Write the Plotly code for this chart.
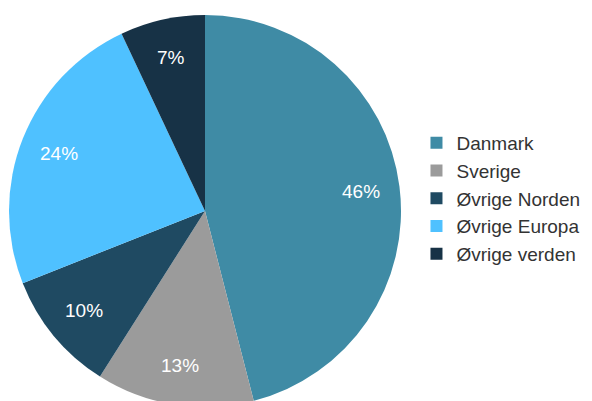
import math
import plotly.graph_objects as go

# Fordeling efter region
regioner = ["Danmark", "Sverige", "Øvrige Norden", "Øvrige Europa", "Øvrige verden"]
andele = [46, 13, 10, 24, 7]
farver = ["#3f8ba5", "#9b9b9b", "#1f4a62", "#4fc1ff", "#173246"]

W, H = 592, 401
dom_x = [1 / W, 393 / W]
dom_y = [0.005, 0.9826]

fig = go.Figure()
fig.add_trace(go.Pie(
    labels=regioner,
    values=andele,
    sort=False,
    direction="clockwise",
    rotation=0,
    marker=dict(colors=farver, line=dict(width=0)),
    textinfo="none",
    domain=dict(x=dom_x, y=dom_y),
    hoverinfo="label+percent",
))

# procent-etiketter ved 0.8 * radius langs midtvinklen
cx = (dom_x[0] + dom_x[1]) / 2 * W
cy = (dom_y[0] + dom_y[1]) / 2 * H
r = min((dom_x[1] - dom_x[0]) * W, (dom_y[1] - dom_y[0]) * H) / 2
total = sum(andele)
cum = 0
for v in andele:
    mid = (cum + v / 2) / total * 2 * math.pi
    cum += v
    fig.add_annotation(
        x=(cx + 0.8 * r * math.sin(mid)) / W,
        y=(cy + 0.8 * r * math.cos(mid)) / H,
        xref="paper", yref="paper",
        xanchor="center", yanchor="middle",
        text=f"{v}%", showarrow=False,
        font=dict(color="white", size=19),
    )

fig.update_layout(
    width=W,
    height=H,
    margin=dict(l=0, r=0, t=0, b=0),
    paper_bgcolor="white",
    font=dict(family="Liberation Sans, Arial, sans-serif", color="#333333"),
    legend=dict(
        x=0.69, y=0.525, xanchor="left", yanchor="middle",
        font=dict(size=19, color="#333333"),
        itemwidth=30,
    ),
)

fig.write_html("out.html")
